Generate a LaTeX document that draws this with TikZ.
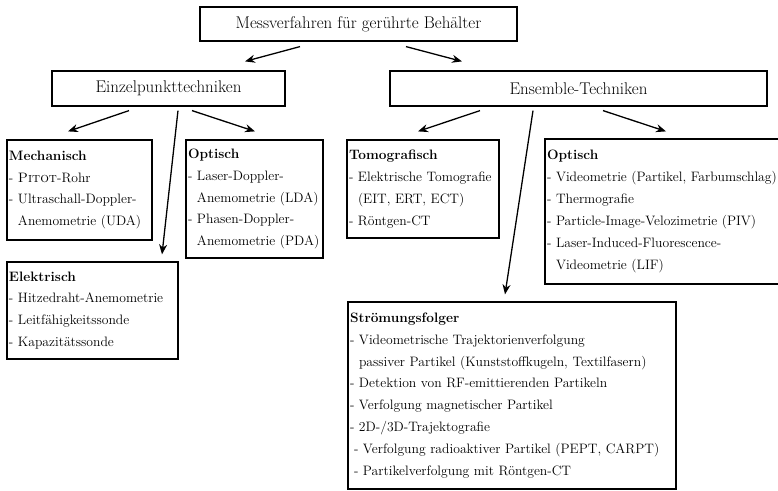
\documentclass[tikz,border=0pt]{standalone}
\usepackage{tikz}
\usetikzlibrary{shapes.geometric, arrows.meta}
\tikzstyle{titleNode} = [rectangle, draw=black, line width=1.2pt, minimum height=35bp, text centered, font=\fontsize{17}{20}\selectfont]
\tikzstyle{groupNode} = [rectangle, draw=black, line width=1.2pt, align=left, inner xsep=2bp, inner ysep=0bp, font=\fontsize{13.7}{22}\selectfont]
\tikzstyle{arrow} = [line width=1.3pt,-{Stealth[length=10bp,width=8bp]}]
\newcommand{\ind}{\phantom{-\ }}

\begin{document}
\begin{tikzpicture}[x=1bp, y=-1bp, node distance=64.5bp]
    \useasboundingbox (0,0) rectangle (778,491);
    \node (verfahren) [titleNode, minimum width=317bp, minimum height=34bp] at (358.5,24) {Messverfahren für gerührte Behälter};
    \node (einzel) [titleNode, minimum width=233bp, below of=verfahren, xshift=-190bp] {Einzelpunkttechniken};
    \node (ensemble) [titleNode, minimum width=377bp, below of=verfahren, xshift=220bp] {Ensemble-Techniken};
    % Einzelpunkttechniken
    \node (mechanisch) [groupNode, text width=141bp, minimum height=100bp, below of=einzel, xshift=-89bp, yshift=-37bp] {\textbf{Mechanisch}\\
        - \textsc{Pitot}-Rohr\\
        - Ultraschall-Doppler-\\
        \ind Anemometrie~(UDA)};
    \node (optischA) [groupNode, text width=133bp, minimum height=118bp, below of=einzel, xshift=86bp, yshift=-46bp] {\textbf{Optisch}\\
        - Laser-Doppler-\\
        \ind Anemometrie~(LDA)\\
        - Phasen-Doppler-\\
        \ind Anemometrie~(PDA)};
    \node (elektrisch) [groupNode, text width=167bp, minimum height=97bp, below of=mechanisch, xshift=13bp, yshift=-56bp] {\textbf{Elektrisch}\\
        - Hitzedraht-Anemometrie\\
        - Leitfähigkeitssonde\\
        - Kapazitätssonde};
    % Ensemble-Techniken
    \node (tomografisch) [groupNode, text width=148bp, minimum height=98bp, below of=ensemble, xshift=-155.5bp, yshift=-36bp] {\textbf{Tomografisch}\\
        - Elektrische~Tomografie\\
        \ind (EIT, ERT, ECT)\\
        - Röntgen-CT};
    \node (optischB) [groupNode, text width=231bp, minimum height=145bp, below of=ensemble, xshift=84bp, yshift=-58.5bp] {\textbf{Optisch}\\
        - Videometrie~(Partikel,~Farbumschlag)\\
        - Thermografie\\
        - Particle-Image-Velozimetrie (PIV)\\
        - Laser-Induced-Fluorescence-\\
        \ind Videometrie (LIF)};
    \node (stroemung) [groupNode, text width=324bp, minimum height=187bp, below of=tomografisch, xshift=89bp, yshift=-142bp] {\textbf{Strömungsfolger}\\
        - Videometrische Trajektorienverfolgung\\
        \ind passiver Partikel (Kunststoffkugeln, Textilfasern)\\
        - Detektion von RF-emittierenden Partikeln\\
        - Verfolgung magnetischer Partikel\\
        - 2D-/3D-Trajektografie\\
        \hspace*{4bp}- Verfolgung radioaktiver Partikel (PEPT, CARPT)\\
        \hspace*{4bp}- Partikelverfolgung mit Röntgen-CT};

    \draw [arrow] ([xshift=-58.5bp, yshift=-5bp]verfahren.south) -- ([xshift=76.5bp, yshift=9bp]einzel.north);
    \draw [arrow] ([xshift=47.5bp, yshift=-5bp]verfahren.south) -- ([xshift=-116.5bp, yshift=9bp]ensemble.north);
    %
    \draw [arrow] ([xshift=-39.5bp, yshift=-4bp]einzel.south) -- ([xshift=-11.5bp, yshift=8bp]mechanisch.north);
    \draw [arrow] ([xshift=23.5bp, yshift=-4bp]einzel.south) -- ([xshift=0.5bp, yshift=8bp]optischA.north);
    \draw [arrow] ([xshift=9.5bp, yshift=-4bp]einzel.south) -- ([xshift=69.5bp, yshift=7bp]elektrisch.north);
    %
    \draw [arrow] ([xshift=-98.5bp, yshift=-4bp]ensemble.south) -- ([xshift=-5bp, yshift=8bp]tomografisch.north);
    \draw [arrow] ([xshift=24.5bp, yshift=-4bp]ensemble.south) -- ([xshift=3.5bp, yshift=7bp]optischB.north);
    \draw [arrow] ([xshift=-45.5bp, yshift=-4bp]ensemble.south) -- ([xshift=-7bp, yshift=7bp]stroemung.north);

\end{tikzpicture}
\end{document}
